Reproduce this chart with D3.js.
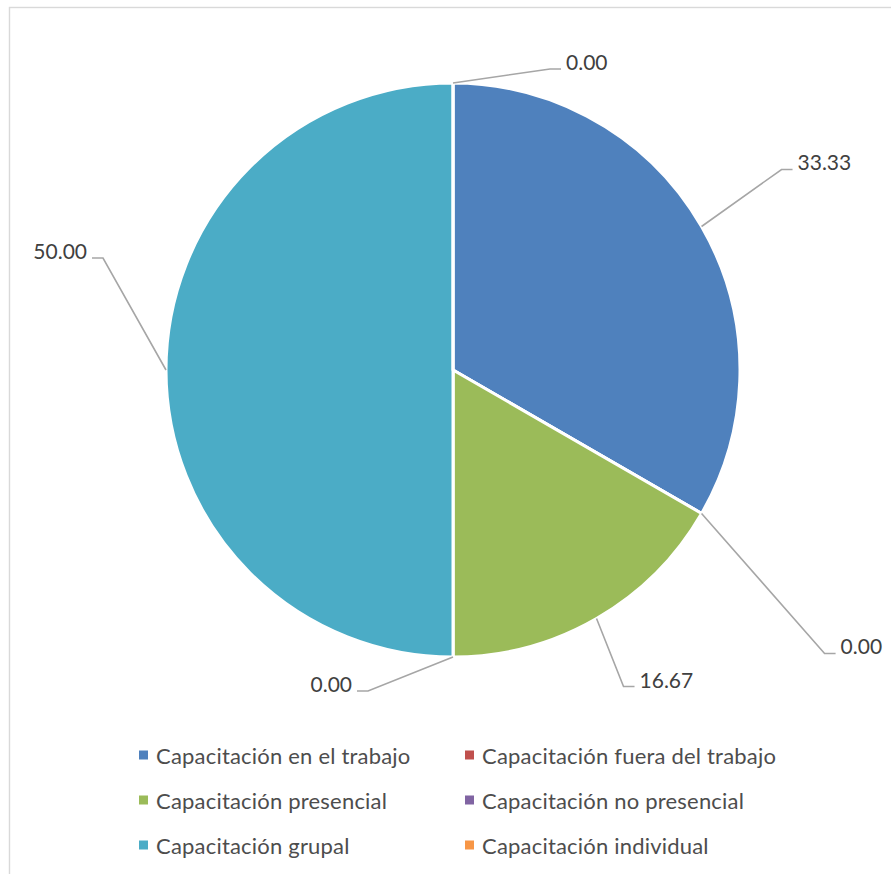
<!DOCTYPE html>
<html>
<head>
<meta charset="utf-8">
<script src="https://cdn.jsdelivr.net/npm/d3@7"></script>
<style>
  html, body { margin: 0; padding: 0; background: #ffffff; }
  svg { display: block; }
  text { font-family: Lato, "Open Sans", sans-serif; fill: #404040; }
</style>
</head>
<body>
<svg id="chart" width="891" height="874"></svg>
<script>
// Types of training and their share (%)
const categories = [
  "Capacitación en el trabajo",
  "Capacitación fuera del trabajo",
  "Capacitación presencial",
  "Capacitación no presencial",
  "Capacitación grupal",
  "Capacitación individual"
];
const values = [33.33, 0.00, 16.67, 0.00, 50.00, 0.00];
const colors = ["#4F81BD", "#C0504D", "#9BBB59", "#8064A2", "#4BACC6", "#F79646"];

// Leader-line elbow offsets from each slice's edge point, and which side the label sits on
const labelElbow = [[80, -57], [123, 140], [27, 68], [-85, 34], [-63, -112], [97, -14]];
const labelSide  = [1, 1, 1, -1, -1, 1];

const width = 891, height = 874;
const cx = 453, cy = 370, radius = 287;

const svg = d3.select("#chart");

// chart frame
svg.append("rect")
  .attr("x", 9.5).attr("y", 7.5)
  .attr("width", width + 20).attr("height", height + 20)
  .attr("fill", "none")
  .attr("stroke", "#d9d9d9")
  .attr("stroke-width", 1.4);

const pie = d3.pie().sort(null).value(d => d);
const arcs = pie(values);
const arc = d3.arc().innerRadius(0).outerRadius(radius);
const color = d3.scaleOrdinal().domain(categories).range(colors);

const g = svg.append("g").attr("transform", `translate(${cx},${cy})`);

g.selectAll("path.slice")
  .data(arcs)
  .join("path")
  .attr("class", "slice")
  .attr("d", arc)
  .attr("fill", (d, i) => color(categories[i]))
  .attr("stroke", "#ffffff")
  .attr("stroke-width", 3)
  .attr("stroke-linejoin", "round");

// data labels with leader lines
const tail = 11, gap = 5;
arcs.forEach((d, i) => {
  const mid = (d.startAngle + d.endAngle) / 2;
  const p0 = [Math.sin(mid) * radius, -Math.cos(mid) * radius];
  const p1 = [p0[0] + labelElbow[i][0], p0[1] + labelElbow[i][1]];
  const p2 = [p1[0] + labelSide[i] * tail, p1[1]];
  g.append("path")
    .attr("d", d3.line()([p0, p1, p2]))
    .attr("fill", "none")
    .attr("stroke", "#a6a6a6")
    .attr("stroke-width", 1.6);
  g.append("text")
    .attr("x", p2[0] + labelSide[i] * gap)
    .attr("y", p2[1] + 1)
    .attr("text-anchor", labelSide[i] > 0 ? "start" : "end")
    .attr("font-size", 21)
    .text(d.data.toFixed(2));
});

// legend: two columns, three rows
const legendX = [139, 465];
const legendY = [755, 800, 845];
const legend = svg.append("g");
categories.forEach((c, i) => {
  const x = legendX[i % 2], y = legendY[Math.floor(i / 2)];
  legend.append("rect")
    .attr("x", x).attr("y", y - 4.5)
    .attr("width", 9).attr("height", 9)
    .attr("fill", color(c));
  legend.append("text")
    .attr("x", x + 17).attr("y", y)
    .attr("dominant-baseline", "central")
    .attr("font-size", 22)
    .attr("letter-spacing", 0.2)
    .style("fill", "#4d4d4d")
    .text(c);
});
</script>
</body>
</html>
